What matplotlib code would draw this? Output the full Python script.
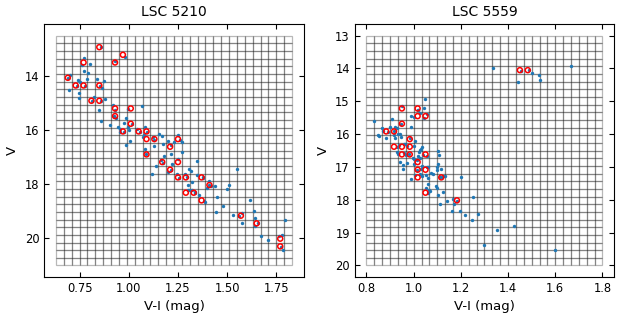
import numpy as np
import matplotlib
matplotlib.use("Agg")
import matplotlib.pyplot as plt
from matplotlib.patches import Rectangle

# LSC 5210: grid extent, 30 x 30 cells
grid_a_x = (0.63, 1.83)
grid_a_y = (12.5, 21.0)
# LSC 5559
grid_b_x = (0.8, 1.8)
grid_b_y = (13.0, 20.0)
ncell = 30

a_xticks = [0.75, 1.00, 1.25, 1.50, 1.75]
b_xticks = [0.8, 1.0, 1.2, 1.4, 1.6, 1.8]

# LSC 5210 stars (V-I, V)
a_vi = [0.86, 0.98, 0.93, 0.774, 0.764, 0.804, 0.771, 0.793, 0.786, 0.70, 0.69, 0.742, 0.75,
        0.694, 0.748, 0.748, 0.775, 0.735, 0.837, 0.875, 0.865, 0.855, 0.823, 0.88, 0.86, 0.815,
        0.847, 0.857, 0.918, 0.93, 0.936, 0.925, 0.904, 0.945, 0.955, 0.986, 0.977, 0.997, 1.015,
        1.068, 0.994, 1.0, 0.955, 0.986, 1.006, 1.043, 1.082, 1.077, 1.07, 1.121, 1.155, 1.17,
        1.095, 1.13, 1.055, 0.975, 1.08, 1.128, 1.173, 1.197, 1.214, 1.231, 1.248, 1.271, 1.26,
        1.213, 1.18, 1.248, 1.165, 1.09, 1.271, 1.136, 1.116, 1.221, 1.199, 1.215, 1.243, 1.255,
        1.285, 1.305, 1.315, 1.322, 1.299, 1.345, 1.302, 1.31, 1.323, 1.346, 1.375, 1.358, 1.387,
        1.398, 1.409, 1.42, 1.438, 1.449, 1.443, 1.48, 1.498, 1.509, 1.53, 1.551, 1.575, 1.578,
        1.617, 1.636, 1.641, 1.642, 1.671, 1.71, 1.764, 1.781, 1.775, 1.783, 1.793, 1.175,
        1.335, 1.295, 1.38, 1.335, 1.375, 1.41, 1.56, 1.655]
a_v = [12.93, 13.28, 13.45, 13.34, 13.57, 13.56, 13.81, 13.89, 14.09, 13.97, 14.08, 14.15, 14.2,
       14.51, 14.63, 14.81, 14.36, 14.37, 14.11, 14.16, 14.42, 14.36, 14.76, 14.84, 14.93, 14.93,
       15.25, 15.65, 15.07, 15.25, 15.54, 15.47, 15.82, 15.89, 15.97, 15.54, 15.72, 15.22, 15.78,
       15.10, 15.87, 16.0, 16.07, 16.54, 16.39, 15.97, 15.87, 16.17, 16.25, 16.24, 16.13, 16.22,
       16.06, 16.35, 16.07, 16.06, 16.69, 16.59, 16.52, 16.39, 16.54, 16.43, 16.18, 16.44, 16.35,
       16.88, 16.95, 17.05, 17.09, 16.86, 16.82, 17.31, 17.63, 17.26, 17.55, 17.48, 17.63, 17.77,
       17.63, 17.43, 17.5, 17.91, 18.04, 17.15, 18.20, 18.22, 18.21, 17.67, 17.76, 18.41, 18.65,
       18.12, 17.88, 18.05, 18.06, 18.48, 19.02, 18.80, 18.18, 18.01, 19.15, 17.42, 19.07, 19.43,
       18.58, 18.97, 19.23, 19.54, 19.92, 20.05, 19.92, 19.88, 20.3, 20.42, 19.33, 17.2,
       18.32, 17.74, 18.6, 18.3, 17.72, 18.02, 19.16, 19.44]

# LSC 5210 selected cells (cell centres)
a_sel_vi = [0.85, 0.97, 0.93, 0.77, 0.69, 0.73, 0.77, 0.85, 0.81, 0.85, 0.93, 1.01, 0.93, 1.01,
            0.97, 1.05, 1.09, 1.09, 1.13, 1.25, 1.21, 1.09, 1.17, 1.25, 1.21, 1.25, 1.29, 1.37,
            1.41, 1.29, 1.33, 1.37, 1.57, 1.65, 1.77, 1.77]
a_sel_v = [12.925, 13.208, 13.492, 13.492, 14.058, 14.342, 14.342, 14.342, 14.908, 14.908,
           15.192, 15.192, 15.475, 15.758, 16.042, 16.042, 16.042, 16.325, 16.325, 16.325,
           16.608, 16.892, 17.175, 17.175, 17.458, 17.742, 17.742, 17.742, 18.025, 18.308,
           18.308, 18.592, 19.158, 19.442, 20.008, 20.292]

# LSC 5559 stars (V-I, V)
b_vi = [1.335, 1.668, 1.442, 1.50, 1.529, 1.536, 1.455, 1.488, 1.049, 0.95, 1.044, 0.99, 1.028,
        1.0, 1.055, 1.02, 0.833, 0.908, 0.945, 0.989, 0.866, 0.87, 0.90, 0.931, 0.85, 0.855,
        0.883, 0.917, 0.942, 0.945, 0.983, 0.93, 0.939, 0.965, 0.97, 1.003, 1.031, 1.028, 0.928,
        0.935, 0.96, 0.966, 0.998, 1.105, 1.108, 1.04, 1.055, 1.02, 0.942, 0.956, 0.953, 0.97,
        0.987, 1.0, 1.007, 1.003, 1.028, 1.032, 1.037, 1.026, 1.058, 1.052, 1.062, 1.054, 1.064,
        1.07, 1.075, 1.08, 1.095, 1.097, 1.103, 1.102, 1.10, 1.117, 1.125, 1.134, 1.113, 1.123,
        1.113, 1.14, 1.165, 1.171, 1.161, 1.202, 1.197, 1.218, 1.253, 1.249, 1.273, 1.353, 1.423,
        1.298, 1.597, 0.92, 0.935, 0.921, 0.959, 1.035, 1.024, 0.98, 1.06, 1.035, 1.098, 1.012,
        1.06, 1.045, 1.016, 1.018, 0.89, 0.915, 1.185, 1.12, 1.06, 1.005]
b_v = [14.0, 13.91, 14.41, 14.14, 14.20, 14.35, 14.07, 14.06, 14.93, 15.15, 15.20, 15.44, 15.36,
       15.48, 15.39, 15.25, 15.61, 15.53, 15.68, 15.78, 15.82, 15.89, 15.78, 15.82, 16.03, 16.06,
       16.11, 16.02, 15.98, 16.08, 16.12, 16.38, 16.33, 16.30, 16.37, 16.36, 16.46, 16.49, 16.54,
       16.61, 16.57, 16.64, 16.74, 16.51, 16.62, 16.62, 16.66, 16.67, 16.84, 16.94, 17.07, 16.88,
       17.37, 16.91, 17.25, 16.75, 16.72, 17.07, 16.96, 17.21, 16.99, 17.24, 17.51, 17.63, 17.71,
       17.72, 17.17, 17.21, 17.57, 17.64, 17.85, 16.91, 17.0, 17.07, 17.27, 17.27, 17.32, 17.75,
       18.12, 18.03, 17.99, 18.12, 18.34, 17.31, 18.34, 18.46, 17.91, 18.62, 18.42, 18.92, 18.79,
       19.39, 19.52, 15.79, 16.01, 16.13, 16.31, 16.40, 16.54, 16.59, 17.33, 17.26, 17.10, 16.8,
       17.8, 15.5, 17.08, 15.25, 15.93, 15.9, 18.05, 17.3, 16.99, 16.2]

# LSC 5559 selected cells (cell centres)
b_sel_vi = [1.45, 1.4833, 0.95, 1.0167, 1.0167, 1.05, 0.95, 0.8833, 0.9167, 0.9833, 0.9167,
            0.95, 0.9833, 0.95, 0.9833, 1.05, 1.0167, 1.0167, 1.05, 1.0167, 1.1167, 1.05, 1.1833]
b_sel_v = [14.05, 14.05, 15.217, 15.217, 15.45, 15.45, 15.683, 15.917, 15.917, 16.15, 16.383,
           16.383, 16.383, 16.617, 16.617, 16.617, 16.85, 17.083, 17.083, 17.317, 17.317,
           17.783, 18.017]


def draw_grid(ax, gx, gy, n):
    xe = np.linspace(gx[0], gx[1], n + 1)
    ye = np.linspace(gy[0], gy[1], n + 1)
    dx = xe[1] - xe[0]
    dy = ye[1] - ye[0]
    for x0 in xe[:-1]:
        for y0 in ye[:-1]:
            ax.add_patch(Rectangle((x0, y0), dx, dy, fill=False, edgecolor='k',
                                   alpha=0.28, lw=0.9))


fig, axes = plt.subplots(1, 2, figsize=(6.23, 3.18), dpi=100)
fig.subplots_adjust(left=0.071, right=0.986, top=0.924, bottom=0.129, wspace=0.196)

panels = [
    ("LSC 5210", grid_a_x, grid_a_y, a_vi, a_v, a_sel_vi, a_sel_v, a_xticks),
    ("LSC 5559", grid_b_x, grid_b_y, b_vi, b_v, b_sel_vi, b_sel_v, b_xticks),
]

for ax, (name, gx, gy, vi, v, svi, sv, xt) in zip(axes, panels):
    draw_grid(ax, gx, gy, ncell)
    ax.scatter(vi, v, s=6, color='#1f77b4', zorder=3, linewidths=0)
    ax.scatter(svi, sv, s=13, facecolors='none', edgecolors='red', linewidths=1.1, zorder=4)
    ax.autoscale_view()
    ax.invert_yaxis()
    ax.set_xticks(xt)
    ax.set_title(name, fontsize=10)
    ax.set_xlabel("V-I (mag)", fontsize=9.5)
    ax.set_ylabel("V", fontsize=9.5)
    ax.tick_params(direction='in', top=True, right=True, labelsize=8.3)

fig.savefig("out.png", dpi=100)
